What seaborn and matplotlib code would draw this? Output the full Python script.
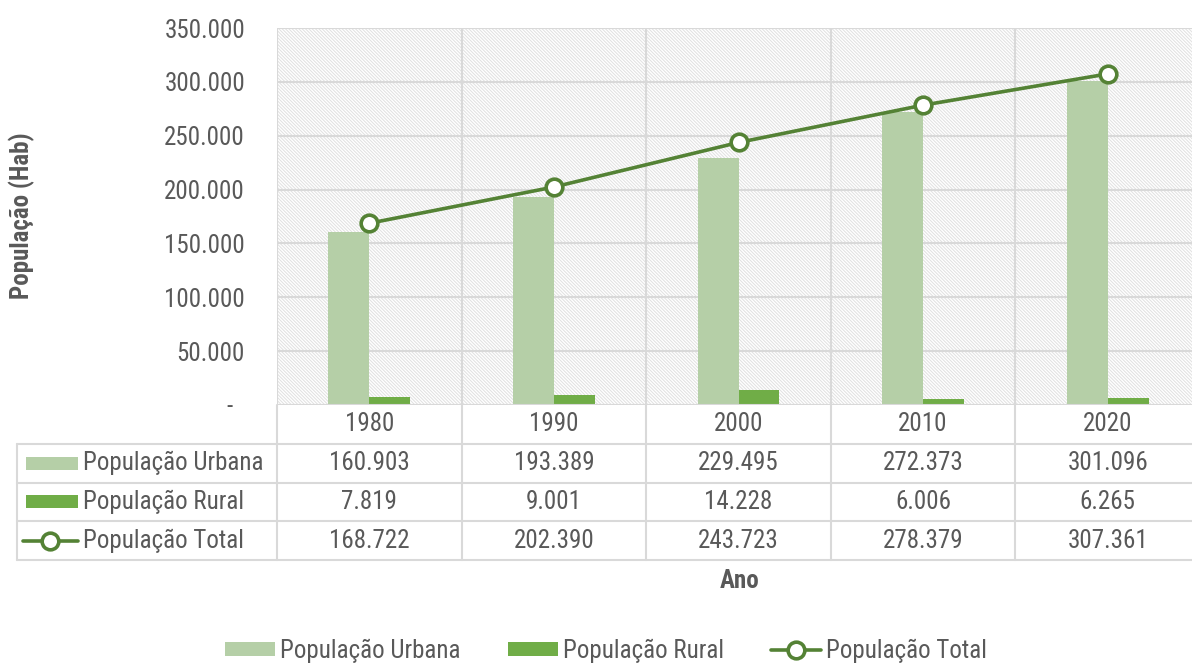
import matplotlib.pyplot as plt
import numpy as np
import pandas as pd
import seaborn as sns
from matplotlib.lines import Line2D
from matplotlib.patches import Patch, Rectangle
from matplotlib.ticker import FuncFormatter

years = ["1980", "1990", "2000", "2010", "2020"]
urbana = [160903, 193389, 229495, 272373, 301096]
rural = [7819, 9001, 14228, 6006, 6265]
total = [168722, 202390, 243723, 278379, 307361]
series_names = ["População Urbana", "População Rural", "População Total"]

C_URB = "#b5cfa7"
C_RUR = "#70ad47"
C_TOT = "#548235"
C_GRID = "#d9d9d9"
C_TXT = "#595959"

sns.set_theme(style="white")
plt.rcParams["font.family"] = ["Roboto Condensed", "Liberation Sans", "DejaVu Sans"]
plt.rcParams["hatch.linewidth"] = 0.7


def br(v):
    return f"{v:,.0f}".replace(",", ".")


W, H = 1192, 664
fig = plt.figure(figsize=(W / 100, H / 100), dpi=100)
ax = fig.add_axes([277 / W, (H - 405) / H, (1200 - 277) / W, (405 - 28) / H])

# hatched plot background
ax.add_patch(Rectangle((0, 0), 1, 1, transform=ax.transAxes, facecolor="white",
                       edgecolor="#e0e0e0", hatch="\\" * 10, lw=0, zorder=0))

df = pd.DataFrame({
    "Ano": years * 2,
    "valor": urbana + rural,
    "serie": [series_names[0]] * 5 + [series_names[1]] * 5,
})
sns.barplot(data=df, x="Ano", y="valor", hue="serie", order=years,
            palette=[C_URB, C_RUR], width=0.444, gap=0, dodge=True,
            saturation=1, legend=False, ax=ax, zorder=3, linewidth=0)
sns.lineplot(x=np.arange(len(years)), y=total, color=C_TOT, lw=2.6,
             marker="o", markersize=12, markerfacecolor="white",
             markeredgecolor=C_TOT, markeredgewidth=2.6, ax=ax, zorder=5)

ax.set_xlim(-0.5, len(years) - 0.5)
ax.set_ylim(0, 350000)
ax.set_yticks(np.arange(0, 350001, 50000))
ax.yaxis.set_major_formatter(FuncFormatter(lambda v, p: br(v) if v > 0 else "-  "))
ax.tick_params(axis="y", length=0, pad=23, labelsize=18, labelcolor=C_TXT)
ax.set_xticks([])
ax.set_xlabel("")
ax.set_ylabel("")
for y in np.arange(50000, 350001, 50000):
    ax.axhline(y, color=C_GRID, lw=1.5, zorder=1)
for i in range(len(years) + 1):
    ax.axvline(i - 0.5, color=C_GRID, lw=1.5, zorder=1)
for s in ax.spines.values():
    s.set_visible(False)
ax.axhline(0, color=C_GRID, lw=1.5, zorder=4)

# data table under the chart
tax = fig.add_axes([17 / W, (H - 560) / H, (1200 - 17) / W, (560 - 405) / H])
cat_px = (1200 - 277) / len(years)
left = -0.5 - (277 - 17) / cat_px
tax.set_xlim(left, len(years) - 0.5)
tax.set_ylim(4, 0)
tax.axis("off")
lk = dict(color=C_GRID, lw=1.5, clip_on=False)
for i in range(len(years) + 1):
    tax.plot([i - 0.5, i - 0.5], [0, 4], **lk)
tax.plot([left, left], [1, 4], **lk)
for r in range(1, 5):
    tax.plot([left, len(years) - 0.5], [r, r], **lk)
fs = 18
for i, yr in enumerate(years):
    tax.text(i, 0.5, yr, ha="center", va="center", fontsize=fs, color=C_TXT)
for r, vals in enumerate([urbana, rural, total], start=1):
    for i, v in enumerate(vals):
        tax.text(i, r + 0.5, br(v), ha="center", va="center", fontsize=fs, color=C_TXT)
    tax.text(left + 66 / cat_px, r + 0.5, series_names[r - 1], ha="left", va="center",
             fontsize=fs, color=C_TXT)
kx0, kw = left + 9 / cat_px, 52 / cat_px
for r, c in [(1, C_URB), (2, C_RUR)]:
    tax.add_patch(Rectangle((kx0, r + 0.5 - 0.17), kw, 0.34, color=c, lw=0))
tax.plot([kx0 - 3 / cat_px, kx0 + kw], [3.5, 3.5], color=C_TOT, lw=2.6)
tax.plot([kx0 + kw / 2 - 2 / cat_px], [3.5], marker="o", markersize=12, color=C_TOT,
         markerfacecolor="white", markeredgewidth=2.6)

fig.text(22 / W, 1 - 216 / H, "População (Hab)", rotation=90, ha="center", va="center",
         fontsize=18, fontweight="bold", color=C_TXT)
fig.text(740 / W, 1 - 581 / H, "Ano", ha="center", va="center",
         fontsize=18, fontweight="bold", color=C_TXT)

handles = [
    Patch(facecolor=C_URB, edgecolor="none", label=series_names[0]),
    Patch(facecolor=C_RUR, edgecolor="none", label=series_names[1]),
    Line2D([], [], color=C_TOT, lw=2.6, marker="o", markersize=12,
           markerfacecolor="white", markeredgewidth=2.6, label=series_names[2]),
]
leg = fig.legend(handles=handles, loc="center", bbox_to_anchor=(606 / W, 1 - 651 / H),
                 ncol=3, frameon=False, fontsize=fs, handlelength=2.0,
                 handleheight=0.5, handletextpad=0.2, columnspacing=1.9)
for t in leg.get_texts():
    t.set_color(C_TXT)

fig.savefig("out.png", dpi=100)
